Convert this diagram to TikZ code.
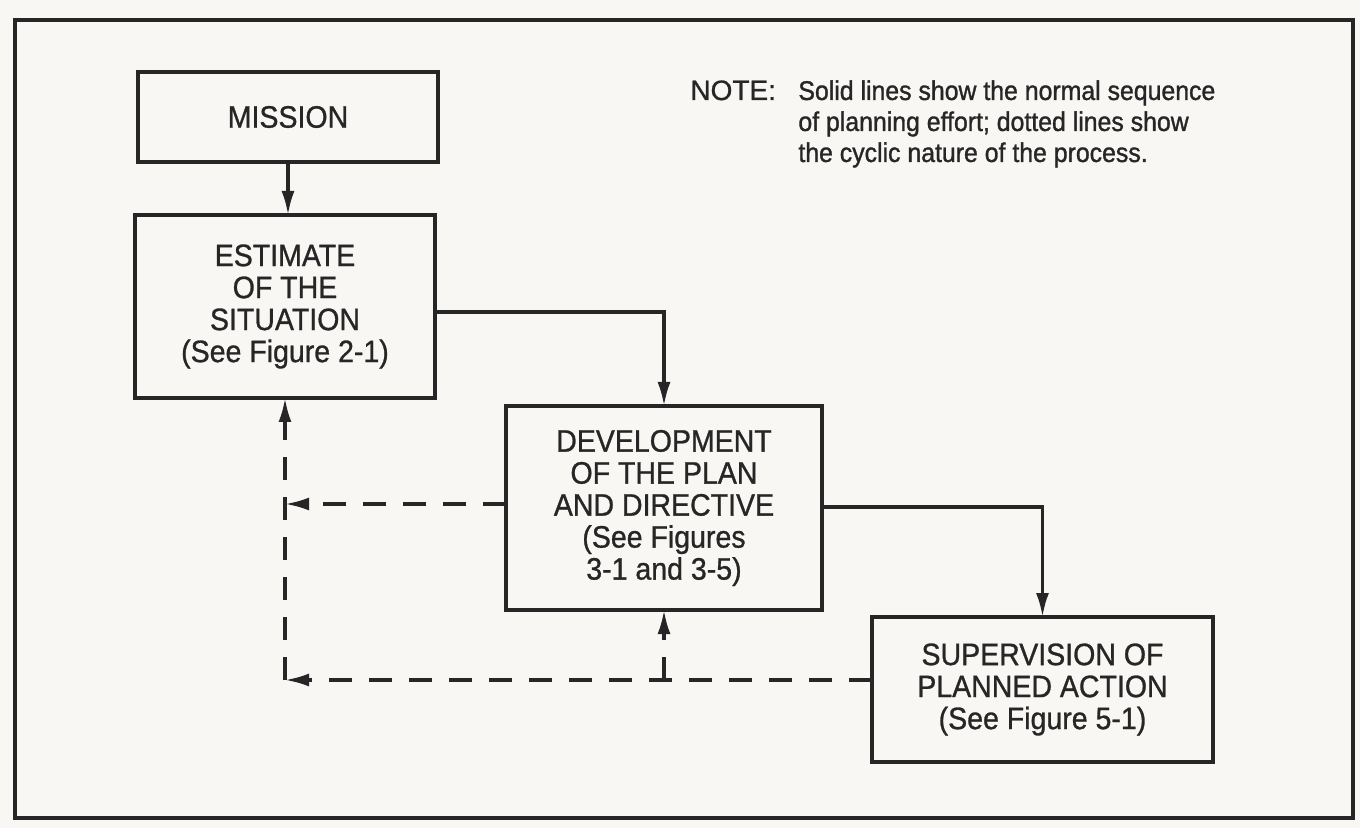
\documentclass[tikz,border=0pt]{standalone}
\usepackage{fontspec}
\setmainfont{Liberation Sans}
\newfontfamily\boxfont[FakeStretch=0.92,FakeBold=0.9]{Liberation Sans}
\newfontfamily\notefont[FakeStretch=0.92,FakeBold=1.2]{Liberation Sans}
\newfontfamily\headfont[FakeBold=0.9]{Liberation Sans}
\usetikzlibrary{arrows.meta}
\definecolor{paper}{RGB}{248,247,244}
\definecolor{ink}{RGB}{38,38,38}

\begin{document}
\begin{tikzpicture}[x=0.5pt,y=-0.5pt,
  box/.style={draw=ink, line width=1.9pt, align=center, inner sep=0pt, outer sep=0pt,
    font=\boxfont\fontsize{15.5}{16}\selectfont, text=ink},
  flow/.style={draw=ink, line width=1.6pt, -{Latex[length=12pt,width=6.5pt]}},
  loopback/.style={draw=ink, line width=1.6pt, dash pattern=on 11.5pt off 8.5pt,
    -{Latex[length=12pt,width=6.5pt]}},
]
% paper and frame
\fill[paper] (0,0) rectangle (1360,828);
\useasboundingbox (0,0) rectangle (1360,828);
\draw[ink, line width=2pt] (15,20) rectangle (1353,818);

% planning steps
\node[box, minimum width=150pt, minimum height=45pt] (mission) at (288,117) {MISSION};
\node[box, minimum width=150pt, minimum height=91.5pt] (estimate) at (285,306.5)
  {ESTIMATE\\OF THE\\SITUATION\\(See Figure 2-1)};
\node[box, minimum width=158pt, minimum height=102pt] (develop) at (664,508)
  {DEVELOPMENT\\OF THE PLAN\\AND DIRECTIVE\\(See Figures\\3-1 and 3-5)};
\node[box, minimum width=170.5pt, minimum height=72.5pt] (supervise) at (1042.5,689.5)
  {SUPERVISION OF\\PLANNED ACTION\\(See Figure 5-1)};

% note
\node[anchor=base west, inner sep=0pt, text=ink, font=\headfont\fontsize{14}{16}\selectfont]
  (notehead) at (690,100) {NOTE:};
\node[anchor=north west, align=left, inner sep=0pt, text=ink,
  font=\notefont\fontsize{13.5}{15.5}\selectfont] (notebody) at (798,80)
  {Solid lines show the normal sequence\\of planning effort; dotted lines show\\the cyclic nature of the process.};

% helper levels
\coordinate (y312) at (0,312);
\coordinate (y504) at (0,504);
\coordinate (y507) at (0,507);
\coordinate (loopcorner) at (285,680);
\coordinate (tee) at (develop.south |- loopcorner);

% normal sequence
\draw[flow] (mission.south) -- (mission.south |- estimate.north);
\draw[flow] (estimate.east |- y312) -| (develop.north);
\draw[flow] (develop.east |- y507) -| (supervise.north);

% cyclic returns
\draw[loopback] (supervise.west |- loopcorner) -- (loopcorner);
\draw[loopback] (loopcorner) -- (estimate.south);
\draw[loopback] (develop.west |- y504) -- (estimate.south |- y504);
\draw[loopback] (tee) -- (develop.south);
\end{tikzpicture}
\end{document}
